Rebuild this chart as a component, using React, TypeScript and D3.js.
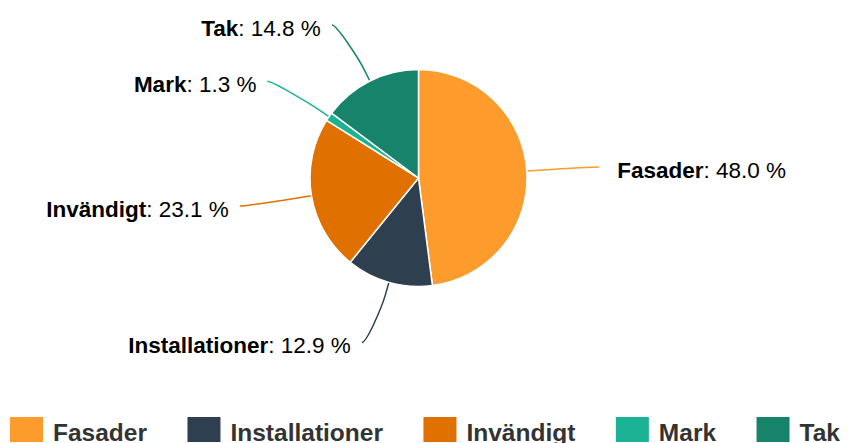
import React, {useEffect, useRef} from "react";
import * as d3 from 'd3';

const WIDTH = 848;
const HEIGHT = 443;
const CX = 418.5;
const CY = 178;
const RADIUS = 108.5;
const LABEL_DISTANCE = 62.5;
const CONNECTOR_PADDING = 10;
const FONT = '"Liberation Sans", Arial, Helvetica, sans-serif';

const categories = ['Fasader', 'Installationer', 'Invändigt', 'Mark', 'Tak'];
const shares = [48.0, 12.9, 23.1, 1.3, 14.8];
const sliceColors = ['#fe9b2d', '#2e3f50', '#e07000', '#1bb394', '#18836b'];

const App: React.FC = () => {
    const d3Container = useRef<SVGSVGElement>(null);

    useEffect(() => {
        const svg = d3.select(d3Container.current);
        svg.selectAll('*').remove();

        const pie = d3.pie<number>().sort(null).value(d => d);
        const arcs = pie(shares);
        const arc = d3.arc<d3.PieArcDatum<number>>().innerRadius(0).outerRadius(RADIUS);

        // angle 0 at top, clockwise (d3 convention)
        const at = (a: number, r: number) => [CX + Math.sin(a) * r, CY - Math.cos(a) * r];

        const connG = svg.append('g');
        const sliceG = svg.append('g').attr('transform', `translate(${CX},${CY})`);
        const labelG = svg.append('g');

        sliceG.selectAll('path')
            .data(arcs)
            .enter()
            .append('path')
            .attr('d', d => arc(d) as string)
            .attr('fill', (d, i) => sliceColors[i])
            .attr('stroke', '#ffffff')
            .attr('stroke-width', 1.5)
            .attr('stroke-linejoin', 'round');

        const outer = RADIUS + LABEL_DISTANCE;
        arcs.forEach((d, i) => {
            const mid = (d.startAngle + d.endAngle) / 2;
            const left = Math.sin(mid) < 0;
            const y = CY - Math.cos(mid) * outer;
            const dx = Math.cos(Math.asin((y - CY) / outer)) * outer;
            const x = CX + (left ? -1 : 1) * (dx + CONNECTOR_PADDING);
            const touch = at(mid, RADIUS);
            const brk = at(mid, RADIUS + LABEL_DISTANCE / 5);
            const path = d3.path();
            path.moveTo(x, y);
            path.bezierCurveTo(
                x + (left ? 5 : -5), y,
                2 * brk[0] - touch[0], 2 * brk[1] - touch[1],
                brk[0], brk[1]
            );
            path.lineTo(touch[0], touch[1]);
            connG.append('path')
                .attr('d', path.toString())
                .attr('fill', 'none')
                .attr('stroke', sliceColors[i])
                .attr('stroke-width', 1.5);

            const text = labelG.append('text')
                .attr('x', left ? x - 11 : x + 18)
                .attr('y', y + 10.5)
                .attr('text-anchor', left ? 'end' : 'start')
                .style('font-family', FONT)
                .style('font-size', '22.5px')
                .attr('fill', '#000000');
            text.append('tspan').style('font-weight', 'bold').text(categories[i]);
            text.append('tspan').text(`: ${d.data.toFixed(1)} %`);
        });

        // legend
        const legendG = svg.append('g');
        const items = legendG.selectAll('g')
            .data(categories)
            .enter()
            .append('g');
        items.append('rect')
            .attr('x', 0)
            .attr('y', 417)
            .attr('width', 33)
            .attr('height', 25)
            .attr('fill', (d, i) => sliceColors[i]);
        items.append('text')
            .attr('x', 43)
            .attr('y', 441)
            .style('font-family', FONT)
            .style('font-size', '24.5px')
            .style('font-weight', 'bold')
            .attr('fill', '#333333')
            .text(d => d);
        let offset = 10;
        const positions: number[] = [];
        items.each(function () {
            const t = d3.select(this).select('text').node() as SVGTextElement;
            positions.push(offset);
            offset += 43 + t.getComputedTextLength() + 40.5;
        });
        items.attr('transform', (d, i) => `translate(${positions[i]},0)`);
    }, []);

    return (
        <svg ref={d3Container} width={WIDTH} height={HEIGHT}
             style={{position: 'absolute', left: 0, top: 0, background: '#ffffff'}}/>
    );
};

export default App;
